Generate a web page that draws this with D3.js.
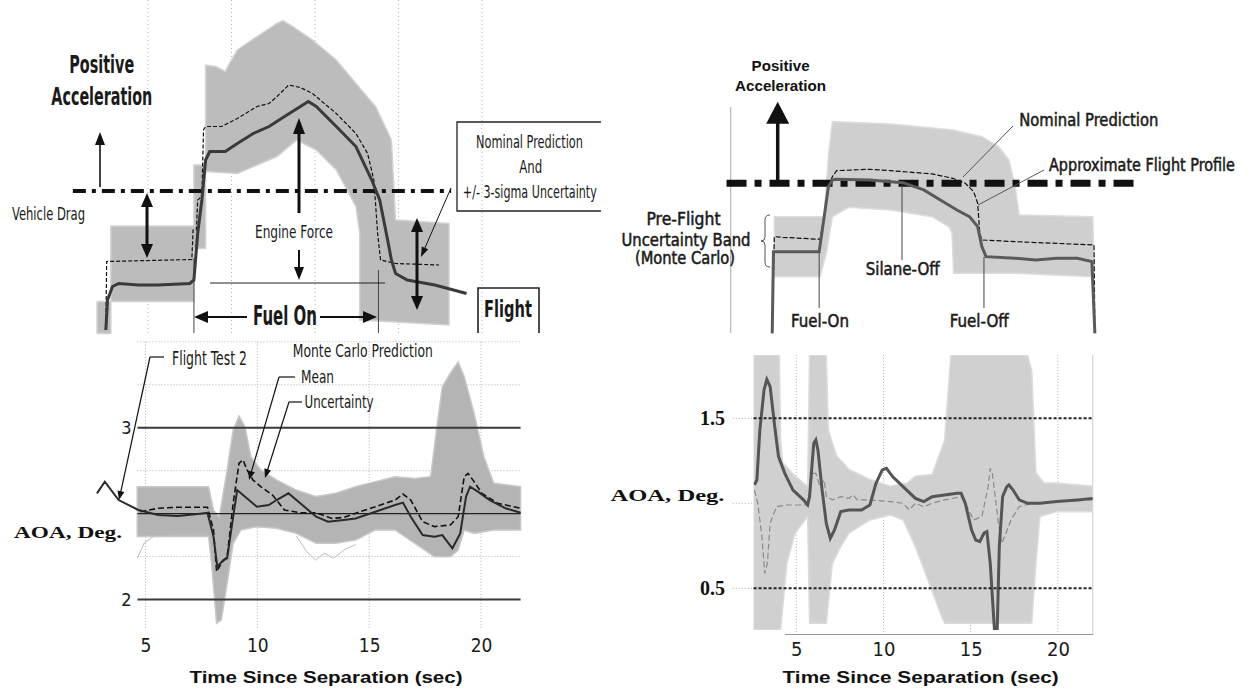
<!DOCTYPE html>
<html>
<head>
<meta charset="utf-8">
<script src="https://cdn.jsdelivr.net/npm/d3@7"></script>
<style>
body { margin: 0; background: #fff; }
svg { display: block; }
.narrow { font-family: 'Liberation Sans Narrow', 'Arial Narrow', 'DejaVu Sans Condensed', 'Liberation Sans', Arial, sans-serif; fill: #1a1a1a; }
.serif { font-family: 'Liberation Serif', 'Times New Roman', serif; font-weight: bold; fill: #111; }
.bold { font-family: 'Liberation Sans', Arial, sans-serif; font-weight: bold; fill: #111; }
</style>
</head>
<body>
<svg id="fig" width="1251" height="690"></svg>
<script>
// ---------- data: [time (s), value] ----------
// top left: acceleration (arbitrary units, 0 = drag reference line)
var tlGrid = [2, 4, 6, 8, 10];
var tlDragSpan = [0.2, 9.26];
var tlFuel = [3.10, 7.52];
var tlBandUpper = [[0.78,-2.21],[1.11,-2.21],[1.11,-0.70],[3.10,-0.70],[3.10,0.52],[3.38,0.52],[3.38,2.52],[3.62,2.49],[3.85,2.39],[3.95,2.55],[4.14,2.82],[4.61,3.09],[5.09,3.35],[5.23,3.41],[5.46,3.29],[5.94,3.02],[6.51,2.62],[6.98,2.15],[7.45,1.69],[7.83,1.02],[7.93,-0.58],[9.21,-0.65]];
var tlBandLower = [[0.78,-2.85],[1.11,-2.85],[1.11,-2.21],[3.10,-2.21],[3.10,-1.15],[3.38,-1.15],[3.38,0.39],[4.14,0.35],[5.09,0.69],[5.56,1.02],[6.03,0.82],[6.51,0.42],[6.98,-0.31],[7.07,-0.85],[7.07,-2.58],[9.21,-2.68]];
var tlNominal = [[0.99,-2.78],[1.01,-1.41],[3.05,-1.37],[3.08,-0.78],[3.16,-0.78],[3.19,-0.18],[3.29,-0.11],[3.33,1.22],[3.38,1.29],[3.76,1.29],[4.14,1.45],[4.61,1.69],[4.90,1.75],[5.09,1.89],[5.37,2.12],[5.65,2.07],[5.94,1.95],[6.51,1.55],[6.98,1.15],[7.26,0.75],[7.41,0.22],[7.50,-0.85],[7.57,-1.38],[7.93,-1.45],[8.97,-1.48]];
var tlFlight = [[0.99,-2.78],[1.03,-2.18],[1.15,-1.91],[1.30,-1.85],[1.77,-1.88],[2.24,-1.88],[3.00,-1.85],[3.10,-1.78],[3.19,-0.85],[3.29,-0.18],[3.38,0.62],[3.48,0.79],[3.85,0.79],[4.14,0.95],[4.52,1.15],[4.90,1.29],[5.27,1.49],[5.65,1.69],[5.84,1.79],[6.03,1.69],[6.51,1.29],[6.98,0.89],[7.36,0.22],[7.55,-0.18],[7.74,-0.98],[7.83,-1.38],[7.93,-1.65],[8.21,-1.78],[8.87,-1.88],[9.63,-2.05]];

// bottom left: AOA, deg
var blXTicks = [5, 10, 15, 20];
var blYTicks = [2, 3];
var blRefLines = [2, 3];
var blMidLine = 2.5;
var blGridY = [2.25, 2.75, 3.25, 3.5];
var blXSpan = [4.64, 21.77];
var blBandUpper = [[4.63,2.657],[7.82,2.657],[8.04,2.521],[8.30,2.482],[8.65,2.754],[8.92,2.987],[9.18,3.068],[9.45,3.006],[9.71,2.831],[10.15,2.754],[10.86,2.696],[11.74,2.637],[12.63,2.599],[13.51,2.618],[14.39,2.657],[15.28,2.686],[16.16,2.715],[17.04,2.705],[17.75,2.715],[18.01,2.986],[18.27,3.239],[18.63,3.317],[18.98,3.384],[19.25,3.297],[19.69,3.084],[20.13,2.831],[20.57,2.676],[21.77,2.657]];
var blBandLower = [[4.63,2.366],[7.82,2.366],[7.95,2.211],[8.18,1.861],[8.39,1.881],[8.65,2.094],[8.92,2.327],[9.27,2.405],[9.98,2.424],[10.86,2.415],[11.74,2.385],[12.63,2.327],[13.51,2.327],[14.39,2.346],[15.28,2.405],[16.16,2.405],[17.04,2.327],[17.92,2.249],[18.63,2.249],[18.98,2.288],[19.25,2.405],[19.69,2.385],[20.57,2.405],[21.77,2.405]];
var blOutlierA = [[4.63,2.24],[4.95,2.33],[5.40,2.37],[7.80,2.38]];
var blOutlierB = [[11.74,2.37],[12.20,2.28],[12.60,2.23],[13.00,2.27],[13.40,2.24],[13.90,2.29],[14.40,2.32]];
var blMean = [[4.77,2.511],[5.57,2.531],[6.45,2.537],[7.77,2.537],[8.04,2.405],[8.18,2.162],[8.39,2.211],[8.65,2.249],[8.92,2.560],[9.18,2.793],[9.36,2.812],[9.54,2.754],[9.80,2.696],[10.15,2.657],[10.68,2.608],[11.21,2.521],[11.92,2.505],[12.63,2.505],[13.33,2.472],[13.86,2.478],[14.39,2.502],[15.28,2.540],[16.16,2.579],[16.51,2.614],[16.86,2.579],[17.39,2.453],[17.92,2.424],[18.63,2.434],[18.98,2.482],[19.25,2.715],[19.42,2.734],[19.69,2.686],[20.04,2.618],[20.75,2.560],[21.77,2.531]];
var blFlight = [[2.83,2.618],[3.18,2.686],[3.80,2.579],[4.68,2.521],[5.57,2.492],[6.45,2.486],[7.33,2.498],[7.77,2.505],[8.04,2.366],[8.21,2.191],[8.48,2.230],[8.65,2.240],[8.92,2.482],[9.10,2.637],[9.36,2.608],[9.98,2.540],[10.51,2.550],[10.86,2.579],[11.39,2.618],[11.92,2.560],[12.63,2.482],[13.16,2.453],[13.86,2.463],[14.39,2.472],[15.28,2.511],[16.16,2.550],[16.51,2.564],[16.86,2.482],[17.39,2.375],[17.92,2.366],[18.27,2.375],[18.72,2.298],[19.07,2.385],[19.33,2.598],[19.51,2.657],[19.86,2.628],[20.39,2.579],[21.10,2.531],[21.77,2.505]];

// top right: acceleration (arbitrary units, 0 = reference line)
var trDragSpan = [1.0, 24.57];
var trAxisAt = 1.24;
var trFuel = [6.31, 15.76];
var trBandUpper = [[3.74,-0.667],[6.60,-0.667],[6.84,0.533],[7.07,1.233],[10.41,1.187],[13.98,1.067],[15.64,0.933],[16.59,0.733],[17.19,0.467],[17.55,-0.067],[17.78,-0.633],[22.00,-0.667],[22.07,-1.667]];
var trBandLower = [[3.74,-1.867],[6.36,-1.867],[6.72,-1.40],[7.07,-0.667],[8.02,-0.48],[10.41,-0.533],[12.79,-0.667],[13.74,-0.867],[13.93,-1.0],[14.02,-1.80],[17.55,-1.80],[22.00,-1.867]];
var trNominal = [[3.62,-3.0],[3.74,-1.067],[4.22,-1.08],[6.36,-1.12],[6.60,-0.667],[6.84,-0.067],[7.07,0.133],[7.31,0.253],[9.22,0.28],[10.41,0.253],[12.79,0.187],[13.98,0.10],[14.69,0.0],[15.17,-0.167],[15.40,-0.40],[15.52,-1.0],[15.64,-1.133],[17.55,-1.167],[22.07,-1.233],[22.12,-3.0]];
var trFlight = [[3.62,-3.0],[3.69,-1.367],[4.22,-1.367],[6.31,-1.367],[6.60,-0.667],[6.84,-0.067],[7.07,0.067],[7.31,0.08],[9.22,0.067],[10.41,0.033],[11.12,0.013],[12.31,-0.133],[13.26,-0.333],[14.21,-0.533],[14.93,-0.667],[15.40,-0.867],[15.64,-1.267],[15.88,-1.467],[17.55,-1.50],[18.74,-1.533],[19.93,-1.50],[21.12,-1.50],[21.95,-1.567],[22.12,-3.0]];

// bottom right: AOA, deg
var brXTicks = [5, 10, 15, 20];
var brYTicks = [0.5, 1.5];
var brXSpan = [2.55, 22.0];
var brYSpan = [0.255, 1.873];
var brAxisSpan = [4.33, 22.0];
var brBandUpper = [[2.55,1.873],[4.03,1.873],[4.10,1.37],[4.22,1.24],[4.93,1.16],[5.65,1.10],[5.76,1.873],[6.72,1.873],[6.84,1.43],[7.31,1.28],[8.02,1.20],[9.22,1.14],[10.41,1.10],[11.36,1.12],[11.83,1.16],[12.79,1.17],[13.50,1.37],[13.86,1.873],[18.26,1.873],[18.50,1.78],[18.74,1.18],[19.21,1.12],[19.93,1.12],[22.0,1.10]];
var brBandLower = [[2.55,0.255],[4.10,0.255],[4.46,0.647],[4.93,0.824],[5.65,0.922],[5.76,0.294],[6.72,0.294],[7.07,0.647],[7.55,0.745],[8.02,0.824],[9.22,0.902],[10.41,0.931],[11.12,0.902],[11.83,0.745],[12.55,0.549],[13.26,0.353],[13.50,0.294],[18.50,0.294],[18.74,0.647],[18.97,0.922],[19.93,0.951],[22.0,0.951]];
var brNominal = [[2.60,1.078],[2.79,1.0],[3.03,0.804],[3.19,0.588],[3.34,0.647],[3.50,0.882],[3.86,0.980],[4.46,0.990],[5.65,0.990],[5.76,1.078],[5.93,1.176],[6.12,1.176],[6.36,1.098],[6.60,1.137],[6.72,1.039],[7.07,1.020],[7.55,1.039],[8.02,1.029],[8.26,1.049],[8.50,1.020],[9.22,1.020],[10.41,1.010],[11.12,1.0],[11.48,0.961],[11.83,1.0],[12.31,0.980],[12.79,1.0],[13.50,1.020],[14.45,1.039],[14.69,1.0],[15.17,0.902],[15.64,0.922],[16.00,1.098],[16.12,1.206],[16.24,1.176],[16.36,1.078],[16.59,0.882],[16.78,0.765],[16.95,0.804],[17.31,0.902],[17.78,0.980],[18.50,1.0],[19.93,1.010],[22.0,1.020]];
var brFlight = [[2.60,1.108],[2.74,1.137],[2.91,1.431],[3.15,1.667],[3.31,1.729],[3.50,1.686],[3.74,1.471],[3.98,1.275],[4.34,1.176],[4.81,1.078],[5.41,1.020],[5.65,0.990],[5.76,1.039],[5.88,1.196],[6.00,1.353],[6.12,1.373],[6.24,1.314],[6.48,1.078],[6.72,0.882],[6.95,0.794],[7.19,0.843],[7.55,0.951],[8.02,0.961],[8.74,0.961],[9.22,0.990],[9.57,1.118],[9.93,1.196],[10.17,1.206],[10.52,1.157],[11.12,1.098],[11.83,1.029],[12.31,1.010],[12.79,1.039],[13.50,1.049],[14.21,1.059],[14.45,1.059],[14.69,1.0],[15.05,0.843],[15.29,0.784],[15.52,0.775],[15.76,0.824],[15.93,0.833],[16.12,0.647],[16.36,0.26],[16.52,0.26],[16.64,0.745],[16.83,1.039],[17.07,1.098],[17.19,1.108],[17.43,1.078],[17.78,1.020],[18.26,1.0],[18.97,1.0],[19.93,1.010],[21.12,1.020],[22.0,1.029]];

// ---------- scales ----------
var svg = d3.select("#fig");
var xTL = d3.scaleLinear().domain([2, 10]).range([148, 482]);
var yTL = d3.scaleLinear().domain([0, 1]).range([191, 141]);
var xBL = d3.scaleLinear().domain([5, 20]).range([145.5, 481]);
var yBL = d3.scaleLinear().domain([2, 3]).range([599.5, 427.7]);
var xR = d3.scaleLinear().domain([5, 20]).range([796.3, 1057.9]);
var yTR = d3.scaleLinear().domain([0, 1]).range([183.3, 133.3]);
var yBR = d3.scaleLinear().domain([0.5, 1.5]).range([588.3, 418.3]);

function lineFor(x, y) {
  return d3.line().x(function(d) { return x(d[0]); }).y(function(d) { return y(d[1]); });
}
function band(ln, upper, lower) {
  return ln(upper.concat(lower.slice().reverse())) + "Z";
}
function label(g, x, y, txt, o) {
  var t = g.append("text")
    .attr("x", x).attr("y", y)
    .attr("text-anchor", o.anchor || "middle")
    .attr("class", o.cls || "narrow")
    .style("font-size", o.size + "px")
    .text(txt);
  if (o.len) t.attr("textLength", o.len).attr("lengthAdjust", "spacingAndGlyphs");
  if (o.weight) t.style("font-weight", o.weight);
  if (o.thick) t.attr("stroke", "#1a1a1a").attr("stroke-width", o.thick);
  return t;
}
function seg(g, pts, w, col) {
  return g.append("path").attr("d", d3.line()(pts))
    .attr("fill", "none").attr("stroke", col || "#111").attr("stroke-width", w);
}
function head(g, x, y, ux, uy, hl, hw) {
  var bx = x - ux * hl, by = y - uy * hl;
  g.append("path")
    .attr("d", "M" + x + "," + y + "L" + (bx - uy * hw) + "," + (by + ux * hw) +
               "L" + (bx + uy * hw) + "," + (by - ux * hw) + "Z")
    .attr("fill", "#111");
}
// line from (x1,y1) to tip (x2,y2); o.both puts a head at the start too
function arrow(g, x1, y1, x2, y2, o) {
  var dx = x2 - x1, dy = y2 - y1, L = Math.hypot(dx, dy), ux = dx / L, uy = dy / L;
  var cut = o.hl * 0.7;
  var sx = o.both ? x1 + ux * cut : x1, sy = o.both ? y1 + uy * cut : y1;
  seg(g, [[sx, sy], [x2 - ux * cut, y2 - uy * cut]], o.w);
  head(g, x2, y2, ux, uy, o.hl, o.hw);
  if (o.both) head(g, x1, y1, -ux, -uy, o.hl, o.hw);
}

// ================= top left =================
var tl = svg.append("g");
var lTL = lineFor(xTL, yTL);
tl.selectAll(".grid").data(tlGrid).enter().append("line")
  .attr("x1", function(d) { return xTL(d); }).attr("x2", function(d) { return xTL(d); })
  .attr("y1", 0).attr("y2", 333)
  .attr("stroke", "#b5b5b5").attr("stroke-dasharray", "1,3");
tl.append("path").attr("d", band(lTL, tlBandUpper, tlBandLower))
  .attr("fill", "#bcbcbc").attr("stroke", "#d2d2d2").attr("stroke-width", 1.5);
tl.append("line")
  .attr("x1", xTL(tlDragSpan[0])).attr("x2", xTL(tlDragSpan[1]))
  .attr("y1", yTL(0)).attr("y2", yTL(0))
  .attr("stroke", "#111").attr("stroke-width", 4).attr("stroke-dasharray", "13,6,4,6");
tl.append("path").attr("d", lTL(tlNominal)).attr("fill", "none")
  .attr("stroke", "#111").attr("stroke-width", 1.2).attr("stroke-dasharray", "4,2");
tl.append("path").attr("d", lTL(tlFlight)).attr("fill", "none")
  .attr("stroke", "#3a3a3a").attr("stroke-width", 3);

// fuel on / off markers
tl.append("line").attr("x1", xTL(tlFuel[0])).attr("x2", xTL(tlFuel[0])).attr("y1", 258).attr("y2", 333).attr("stroke", "#444");
tl.append("line").attr("x1", xTL(tlFuel[1])).attr("x2", xTL(tlFuel[1])).attr("y1", 270).attr("y2", 333).attr("stroke", "#444");
seg(tl, [[210, 283], [385, 283]], 1, "#222");

label(tl, 101.7, 72.5, "Positive", {cls: "narrow", size: 25, weight: "bold", len: 65});
label(tl, 101.8, 105, "Acceleration", {cls: "narrow", size: 25, weight: "bold", len: 101});
arrow(tl, 100, 187, 100, 132, {w: 1.6, hl: 13, hw: 5});
label(tl, 48.5, 220, "Vehicle Drag", {size: 18, len: 73});
arrow(tl, 147, 193, 147, 258, {w: 3, hl: 14, hw: 6, both: true});
arrow(tl, 299, 213, 299, 118, {w: 3, hl: 16, hw: 6});
label(tl, 294, 238, "Engine Force", {size: 18, len: 78});
arrow(tl, 299, 250, 299, 280, {w: 2, hl: 13, hw: 5});
arrow(tl, 417, 218, 417, 310, {w: 3, hl: 14, hw: 6, both: true});
arrow(tl, 247, 317, 194, 317, {w: 2, hl: 14, hw: 6});
arrow(tl, 320, 317, 377, 317, {w: 2, hl: 14, hw: 6});
label(tl, 285, 325, "Fuel On", {size: 26, weight: "bold", len: 64});

// nominal prediction box
seg(tl, [[601, 122], [457, 122], [457, 211], [601, 211]], 1.3, "#222");
label(tl, 529.5, 148, "Nominal Prediction", {size: 18, len: 107});
label(tl, 530.7, 173, "And", {size: 18, len: 23});
label(tl, 529.8, 198, "+/- 3-sigma Uncertainty", {size: 18, len: 134});
arrow(tl, 451, 188, 421, 257, {w: 1, hl: 10, hw: 3.5});

// flight box
seg(tl, [[478, 333], [478, 288], [539, 288], [539, 333]], 1.6, "#222");
label(tl, 508, 317, "Flight", {size: 23, weight: "bold", len: 48});

// ================= bottom left =================
var bl = svg.append("g");
var lBL = lineFor(xBL, yBL);
bl.selectAll(".gy").data(blGridY).enter().append("line")
  .attr("x1", xBL(blXSpan[0])).attr("x2", xBL(blXSpan[1]))
  .attr("y1", function(d) { return yBL(d); }).attr("y2", function(d) { return yBL(d); })
  .attr("stroke", "#b0b0b0").attr("stroke-dasharray", "1,2");
bl.selectAll(".gx").data(blXTicks).enter().append("line")
  .attr("x1", function(d) { return xBL(d); }).attr("x2", function(d) { return xBL(d); })
  .attr("y1", yBL(3.5)).attr("y2", 630)
  .attr("stroke", "#b0b0b0").attr("stroke-dasharray", "1,2");
bl.append("path").attr("d", band(lBL, blBandUpper, blBandLower))
  .attr("fill", "#b4b4b4").attr("stroke", "#c8c8c8").attr("stroke-width", 1.5);
[blOutlierA, blOutlierB].forEach(function(s) {
  bl.append("path").attr("d", lBL(s)).attr("fill", "none")
    .attr("stroke", "#bdbdbd").attr("stroke-width", 1);
});
bl.selectAll(".ref").data(blRefLines).enter().append("line")
  .attr("x1", xBL(blXSpan[0])).attr("x2", xBL(blXSpan[1]))
  .attr("y1", function(d) { return yBL(d); }).attr("y2", function(d) { return yBL(d); })
  .attr("stroke", "#3a3a3a").attr("stroke-width", 2);
bl.append("line")
  .attr("x1", xBL(blXSpan[0])).attr("x2", xBL(blXSpan[1]))
  .attr("y1", yBL(blMidLine)).attr("y2", yBL(blMidLine))
  .attr("stroke", "#222").attr("stroke-width", 1.2);
bl.append("path").attr("d", lBL(blMean)).attr("fill", "none")
  .attr("stroke", "#111").attr("stroke-width", 1.6).attr("stroke-dasharray", "6,3");
bl.append("path").attr("d", lBL(blFlight)).attr("fill", "none")
  .attr("stroke", "#2a2a2a").attr("stroke-width", 2);

var blx = bl.append("g").attr("transform", "translate(0,630)")
  .call(d3.axisBottom(xBL).tickValues(blXTicks).tickSize(0).tickPadding(9));
blx.select(".domain").remove();
blx.selectAll("text").attr("class", "narrow").style("font-size", "19px").attr("fill", "#222");
var bly = bl.append("g").attr("transform", "translate(" + xBL(blXSpan[0]) + ",0)")
  .call(d3.axisLeft(yBL).tickValues(blYTicks).tickSize(0).tickPadding(6).tickFormat(d3.format("d")));
bly.select(".domain").remove();
bly.selectAll("text").attr("class", "narrow").style("font-size", "18px").attr("fill", "#222");

label(bl, 68, 538, "AOA, Deg.", {cls: "serif", size: 17, len: 108});
label(bl, 326, 683, "Time Since Separation (sec)", {cls: "bold", size: 16, len: 273});
label(bl, 209.5, 365, "Flight Test 2", {size: 19, len: 75});
seg(bl, [[164, 357], [150, 357]], 1.2);
arrow(bl, 150, 357, 119, 500, {w: 1.2, hl: 9, hw: 3.5});
label(bl, 362.8, 357, "Monte Carlo Prediction", {size: 18, len: 140});
label(bl, 317.5, 383, "Mean", {size: 18, len: 33});
seg(bl, [[295, 377], [279, 377]], 1.2);
arrow(bl, 279, 377, 249, 480, {w: 1.2, hl: 9, hw: 3.5});
label(bl, 339, 408, "Uncertainty", {size: 18, len: 69});
seg(bl, [[302, 402], [289, 402]], 1.2);
arrow(bl, 289, 402, 265, 478, {w: 1.2, hl: 9, hw: 3.5});

// ================= top right =================
var tr = svg.append("g");
var lTR = lineFor(xR, yTR);
tr.append("line").attr("x1", xR(trAxisAt)).attr("x2", xR(trAxisAt)).attr("y1", 107).attr("y2", 333)
  .attr("stroke", "#aaa");
tr.append("path").attr("d", band(lTR, trBandUpper, trBandLower))
  .attr("fill", "#cfcfcf").attr("stroke", "#dcdcdc").attr("stroke-width", 1.5);
tr.append("line")
  .attr("x1", xR(trDragSpan[0])).attr("x2", xR(trDragSpan[1]))
  .attr("y1", yTR(0)).attr("y2", yTR(0))
  .attr("stroke", "#111").attr("stroke-width", 7).attr("stroke-dasharray", "20,8,7,8");
tr.append("path").attr("d", lTR(trNominal)).attr("fill", "none")
  .attr("stroke", "#111").attr("stroke-width", 1.2).attr("stroke-dasharray", "5,2");
tr.append("path").attr("d", lTR(trFlight)).attr("fill", "none")
  .attr("stroke", "#5a5a5a").attr("stroke-width", 3);

arrow(tr, 777.7, 182, 777.7, 101.7, {w: 3.5, hl: 22, hw: 11.5});
label(tr, 780.6, 71, "Positive", {cls: "bold", size: 15, len: 58});
label(tr, 780.6, 90.7, "Acceleration", {cls: "bold", size: 15, len: 91});
label(tr, 1088.8, 126, "Nominal Prediction", {size: 17, len: 139, thick: 0.5});
seg(tr, [[1013, 126], [963, 177]], 1, "#555");
label(tr, 1142, 171, "Approximate Flight Profile", {size: 17, len: 186, thick: 0.5});
seg(tr, [[1044, 170], [978, 205]], 1, "#555");
label(tr, 683.5, 225, "Pre-Flight", {size: 17, len: 74, thick: 0.5});
label(tr, 686, 245.5, "Uncertainty Band", {size: 17, len: 129, thick: 0.5});
label(tr, 685, 264, "(Monte Carlo)", {size: 17, len: 100, thick: 0.5});
tr.append("path")
  .attr("d", "M770,215Q765,215 765,220L765,237Q765,241 761,241Q765,241 765,245L765,262Q765,267 770,267")
  .attr("fill", "none").attr("stroke", "#555").attr("stroke-width", 1);
seg(tr, [[902, 185], [902, 260]], 1, "#444");
label(tr, 902.7, 275, "Silane-Off", {size: 17, len: 74, thick: 0.5});
seg(tr, [[xR(trFuel[0]), 252], [xR(trFuel[0]), 308]], 1, "#444");
label(tr, 820, 326.7, "Fuel-On", {size: 17, len: 58, thick: 0.5});
seg(tr, [[xR(trFuel[1]), 257], [xR(trFuel[1]), 308]], 1, "#444");
label(tr, 979.2, 326.7, "Fuel-Off", {size: 17, len: 59, thick: 0.5});

// ================= bottom right =================
var br = svg.append("g");
var lBR = lineFor(xR, yBR);
svg.append("defs").append("clipPath").attr("id", "brclip").append("rect")
  .attr("x", xR(brXSpan[0])).attr("y", yBR(brYSpan[1]))
  .attr("width", xR(brXSpan[1]) - xR(brXSpan[0]))
  .attr("height", yBR(brYSpan[0]) - yBR(brYSpan[1]));
br.selectAll(".gx").data(brXTicks).enter().append("line")
  .attr("x1", function(d) { return xR(d); }).attr("x2", function(d) { return xR(d); })
  .attr("y1", yBR(brYSpan[1])).attr("y2", 634)
  .attr("stroke", "#b0b0b0").attr("stroke-dasharray", "1,2");
br.append("line").attr("x1", xR(brXSpan[1])).attr("x2", xR(brXSpan[1]))
  .attr("y1", yBR(brYSpan[1])).attr("y2", 634).attr("stroke", "#ccc");
// faint guides left of the plot
br.selectAll(".guide").data([0.5, 1.0, 1.5]).enter().append("line")
  .attr("x1", xR(1.36)).attr("x2", xR(brXSpan[0]))
  .attr("y1", function(d) { return yBR(d); }).attr("y2", function(d) { return yBR(d); })
  .attr("stroke", "#aaa").attr("stroke-dasharray", "1,2");
var brPlot = br.append("g").attr("clip-path", "url(#brclip)");
brPlot.append("path").attr("d", band(lBR, brBandUpper, brBandLower))
  .attr("fill", "#d0d0d0").attr("stroke", "#dcdcdc").attr("stroke-width", 1.5);
br.selectAll(".ref").data(brYTicks).enter().append("line")
  .attr("x1", xR(brXSpan[0])).attr("x2", xR(brXSpan[1]))
  .attr("y1", function(d) { return yBR(d); }).attr("y2", function(d) { return yBR(d); })
  .attr("stroke", "#222").attr("stroke-width", 2).attr("stroke-dasharray", "3,2");
brPlot.append("path").attr("d", lBR(brNominal)).attr("fill", "none")
  .attr("stroke", "#8a8a8a").attr("stroke-width", 1.2).attr("stroke-dasharray", "6,3");
brPlot.append("path").attr("d", lBR(brFlight)).attr("fill", "none")
  .attr("stroke", "#555").attr("stroke-width", 3);

var brAxisScale = xR.copy().domain(brAxisSpan).range(brAxisSpan.map(xR));
var brx = br.append("g").attr("transform", "translate(0,634)")
  .call(d3.axisBottom(brAxisScale).tickValues(brXTicks).tickSize(0).tickPadding(8).tickSizeOuter(0));
brx.select(".domain").attr("stroke", "#999");
brx.selectAll("text").attr("class", "narrow").style("font-size", "20px").attr("fill", "#333");
var bry = br.append("g").attr("transform", "translate(729,0)")
  .call(d3.axisLeft(yBR).tickValues(brYTicks).tickSize(0).tickPadding(4).tickFormat(d3.format(".1f")));
bry.select(".domain").remove();
bry.selectAll("text").attr("class", "serif").style("font-size", "20px").attr("fill", "#111");

label(br, 667.5, 500.7, "AOA, Deg.", {cls: "serif", size: 17, len: 114});
label(br, 920.6, 683, "Time Since Separation (sec)", {cls: "bold", size: 16, len: 276});
</script>
</body>
</html>
